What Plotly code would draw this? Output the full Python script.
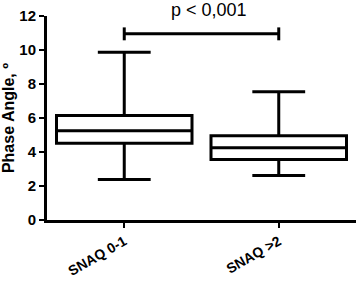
import plotly.graph_objects as go

categories = ["SNAQ 0-1", "SNAQ >2"]
q1 = [4.52, 3.56]
median = [5.25, 4.25]
q3 = [6.14, 4.95]
lower = [2.38, 2.62]
upper = [9.87, 7.55]
y_ticks = [0, 2, 4, 6, 8, 10, 12]
p_text = "p < 0,001"
p_bar_y = 10.95

fig = go.Figure()
fig.add_trace(go.Box(
    x=categories, q1=q1, median=median, q3=q3,
    lowerfence=lower, upperfence=upper,
    boxpoints=False, fillcolor="white",
    line=dict(color="black", width=3),
    whiskerwidth=0.39, width=0.877, showlegend=False,
))

# significance bracket
fig.add_shape(type="line", xref="x", yref="y", x0=0, x1=1, y0=p_bar_y, y1=p_bar_y,
              line=dict(color="black", width=3))
for xc in [0, 1]:
    fig.add_shape(type="line", xref="x", yref="y", x0=xc, x1=xc,
                  y0=p_bar_y - 0.38, y1=p_bar_y + 0.38,
                  line=dict(color="black", width=3))
fig.add_annotation(x=0.55, y=1.0, xref="x", yref="paper", yanchor="middle", yshift=6,
                   text=p_text, showarrow=False,
                   font=dict(family="Arial, Liberation Sans", size=18, color="black"))

fig.update_layout(
    width=358, height=282,
    margin=dict(l=47, r=2, t=16, b=62),
    plot_bgcolor="white", paper_bgcolor="white",
    font=dict(family="Arial, Liberation Sans", color="black"),
)
fig.update_xaxes(
    type="category", range=[-0.5, 1.5], showline=True, linecolor="black", linewidth=3,
    ticks="outside", ticklen=5, tickwidth=2, tickcolor="black", tickangle=-30,
    tickfont=dict(size=14, weight="bold"), automargin=False,
    showgrid=False, zeroline=False,
)
fig.update_yaxes(
    range=[0, 12], tickvals=y_ticks, showline=True, linecolor="black", linewidth=3,
    ticks="outside", ticklen=5, tickwidth=2, tickcolor="black",
    tickfont=dict(size=15, weight="bold"), automargin=False,
    title=dict(text="Phase Angle, º", font=dict(size=16, weight="bold"), standoff=6),
    showgrid=False, zeroline=False,
)
fig.write_html("out.html", config={"displayModeBar": False},
               post_script="document.body.style.margin='0';")
